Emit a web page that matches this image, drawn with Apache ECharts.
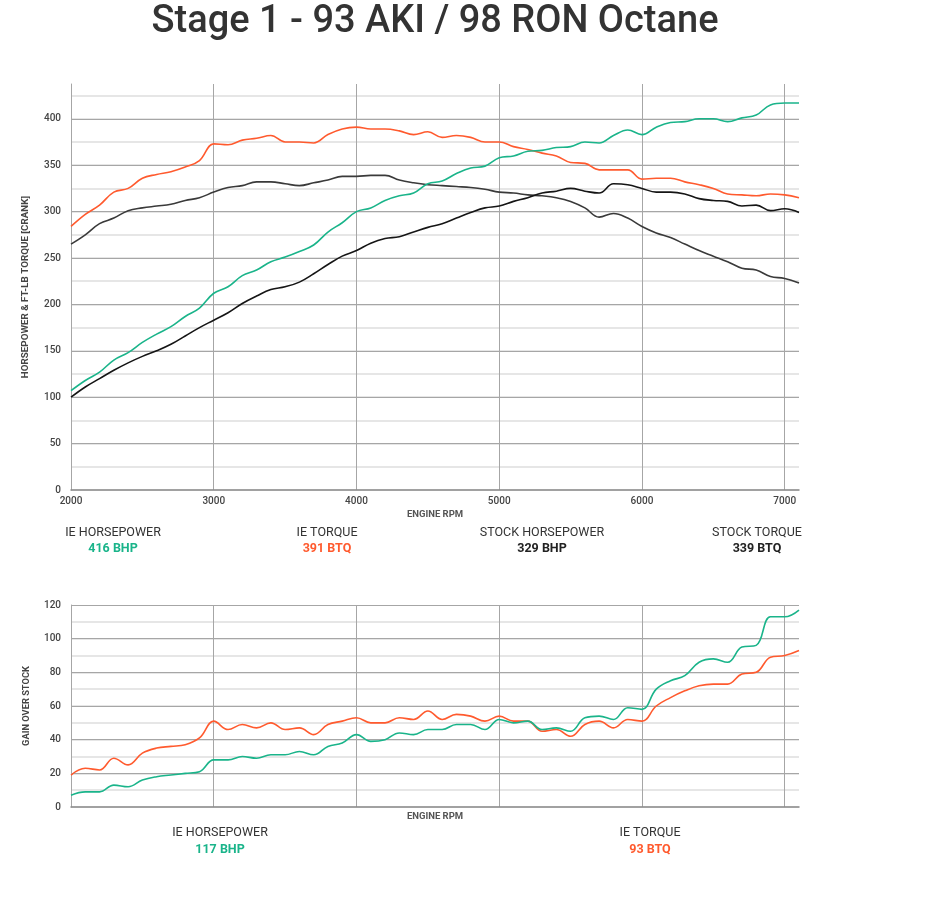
<!DOCTYPE html>
<html>
<head>
<meta charset="utf-8">
<script src="https://cdn.jsdelivr.net/npm/echarts@6/dist/echarts.min.js"></script>
<style>
html,body{margin:0;padding:0;background:#fff;}
#c{width:950px;height:902px;}
</style>
</head>
<body>
<div id="c"></div>
<script>
const rpm = [2000,2100,2200,2300,2400,2500,2600,2700,2800,2900,3000,3100,3200,3300,3400,3500,3600,3700,3800,3900,4000,4100,4200,4300,4400,4500,4600,4700,4800,4900,5000,5100,5200,5300,5400,5500,5600,5700,5800,5900,6000,6100,6200,6300,6400,6500,6600,6700,6800,6900,7000,7100];

const ieHorsepower = [107,118,127,140,148,159,168,176,187,196,212,219,231,237,246,251,257,264,278,288,300,304,312,317,320,330,333,341,347,349,358,360,365,366,369,370,375,374,382,388,383,391,396,397,400,400,397,401,404,415,417,417];
const ieTorque = [284,297,307,321,325,336,340,343,348,355,373,372,377,379,382,375,375,374,383,389,391,389,389,387,383,386,380,382,380,375,375,370,367,363,360,353,352,345,345,345,335,336,336,332,329,325,319,318,317,319,318,315];
const stockHorsepower = [100,111,120,129,137,144,150,157,166,175,183,191,201,209,216,219,224,233,243,252,258,266,271,273,278,283,287,293,299,304,306,311,315,320,322,325,322,320,330,329,325,321,321,319,314,312,311,306,307,301,303,299];
const stockTorque = [265,275,287,293,301,304,306,308,312,315,321,326,328,332,332,330,328,331,334,338,338,339,339,334,331,329,328,327,326,324,321,320,318,317,315,311,304,294,298,293,284,277,272,265,258,252,246,239,237,230,228,223];

const gainHorsepower = [7,9,9,13,12,16,18,19,20,21,28,28,30,29,31,31,33,31,36,38,43,39,40,44,43,46,46,49,49,46,52,50,51,46,47,45,53,54,52,59,58,70,75,78,86,88,86,95,96,113,113,117];
const gainTorque = [19,23,22,29,25,32,35,36,37,41,51,46,49,47,50,46,47,43,49,51,53,50,50,53,52,57,52,55,54,51,54,51,51,45,46,42,49,51,47,52,51,60,65,69,72,73,73,79,80,89,90,93];

const xTicks = [2000,3000,4000,5000,6000,7000];
const topLegend = [
  {label:'IE HORSEPOWER', value:'416 BHP', color:'#1ab48a'},
  {label:'IE TORQUE', value:'391 BTQ', color:'#ff5a2e'},
  {label:'STOCK HORSEPOWER', value:'329 BHP', color:'#222222'},
  {label:'STOCK TORQUE', value:'339 BTQ', color:'#222222'}
];
const bottomLegend = [
  {label:'IE HORSEPOWER', value:'117 BHP', color:'#1ab48a'},
  {label:'IE TORQUE', value:'93 BTQ', color:'#ff5a2e'}
];

const GREEN = '#1ab48a', RED = '#ff5a2e', BLACK = '#151515', DGRAY = '#3a3a3a';
const FONT = 'Roboto, "DejaVu Sans", sans-serif';
const pairs = v => rpm.map((r,i)=>[r, v[i]]);

const chart = echarts.init(document.getElementById('c'), null, {renderer:'canvas'});

function xAxisCfg(gridIndex, showLabels, nameGap){
  return {
    type:'value', gridIndex, min:2000, max:7100, interval:1000,
    name:'ENGINE RPM', nameLocation:'middle', nameGap,
    nameTextStyle:{fontFamily:FONT, fontSize:9.5, fontWeight:'bold', color:'#555'},
    axisLine:{show:true, lineStyle:{color:'#8a8a8a', width:1.5}},
    axisTick:{show:false},
    axisLabel:{show:showLabels, fontFamily:FONT, fontSize:10, fontWeight:500, color:'#444', margin:6, showMaxLabel:false,
      formatter: v => xTicks.indexOf(v) >= 0 ? String(v) : ''},
    splitLine:{show:true, showMinLine:false, showMaxLine:false, lineStyle:{color:'#a6a6a6', width:1}}
  };
}
function minorY(gridIndex, max, interval){
  return {
    type:'value', gridIndex, min:0, max, interval, position:'left',
    axisLine:{show:false}, axisTick:{show:false}, axisLabel:{show:false},
    splitLine:{show:true, showMaxLine:false, lineStyle:{color:'#e6e6e6', width:2}}
  };
}
function majorY(gridIndex, max, interval, name, maxLabel, nameSize){
  return {
    type:'value', gridIndex, min:0, max, interval, position:'left',
    name, nameLocation:'middle', nameGap:40, nameRotate:90,
    nameTextStyle:{fontFamily:FONT, fontSize:nameSize, fontWeight:'bold', color:'#444'},
    axisLine:{show:true, lineStyle:{color:'#a6a6a6', width:1}},
    axisTick:{show:false},
    axisLabel:{fontFamily:FONT, fontSize:10, fontWeight:500, color:'#444', margin:10, showMaxLabel:maxLabel},
    splitLine:{show:true, showMinLine:false, showMaxLine:maxLabel, lineStyle:{color:'#a6a6a6', width:1}}
  };
}

const graphics = [
  {type:'text', x:435, y:22, style:{text:'Stage 1 - 93 AKI / 98 RON Octane', font:'500 38px '+FONT, fill:'#333', textAlign:'center', textVerticalAlign:'middle'}, z:10}
];
const topX = [113, 327, 542, 757];
topLegend.forEach((l,i)=>{
  graphics.push({type:'text', x:topX[i], y:533, style:{text:l.label, font:'12.5px '+FONT, fill:'#333', textAlign:'center', textVerticalAlign:'middle'}});
  graphics.push({type:'text', x:topX[i], y:549, style:{text:l.value, font:'bold 12.5px '+FONT, fill:l.color, textAlign:'center', textVerticalAlign:'middle'}});
});
const botX = [220, 650];
bottomLegend.forEach((l,i)=>{
  graphics.push({type:'text', x:botX[i], y:833, style:{text:l.label, font:'12.5px '+FONT, fill:'#333', textAlign:'center', textVerticalAlign:'middle'}});
  graphics.push({type:'text', x:botX[i], y:850, style:{text:l.value, font:'bold 12.5px '+FONT, fill:l.color, textAlign:'center', textVerticalAlign:'middle'}});
});

function line(name, data, color, xi, yi, w){
  return {type:'line', name, xAxisIndex:xi, yAxisIndex:yi, data:pairs(data), smooth:0.4, showSymbol:false, symbol:'none',
    lineStyle:{color, width:w}, itemStyle:{color}, animation:false};
}

chart.setOption({
  backgroundColor:'#fff',
  animation:false,
  grid:[
    {left:71, right:151, top:84, height:406, containLabel:false},
    {left:71, right:151, top:605, height:202, containLabel:false}
  ],
  xAxis:[xAxisCfg(0, true, 20), xAxisCfg(1, false, 5)],
  yAxis:[
    minorY(0, 437.5, 25),
    majorY(0, 437.5, 50, 'HORSEPOWER & FT-LB TORQUE [CRANK]', false, 9.8),
    minorY(1, 120, 10),
    majorY(1, 120, 20, 'GAIN OVER STOCK', true, 9.3)
  ],
  series:[
    line('Stock Torque', stockTorque, DGRAY, 0, 1, 1.6),
    line('Stock Horsepower', stockHorsepower, BLACK, 0, 1, 1.6),
    line('IE Torque', ieTorque, RED, 0, 1, 1.6),
    line('IE Horsepower', ieHorsepower, GREEN, 0, 1, 1.6),
    line('Gain Torque', gainTorque, RED, 1, 3, 1.6),
    line('Gain Horsepower', gainHorsepower, GREEN, 1, 3, 1.6)
  ],
  graphic: graphics
});
</script>
</body>
</html>
